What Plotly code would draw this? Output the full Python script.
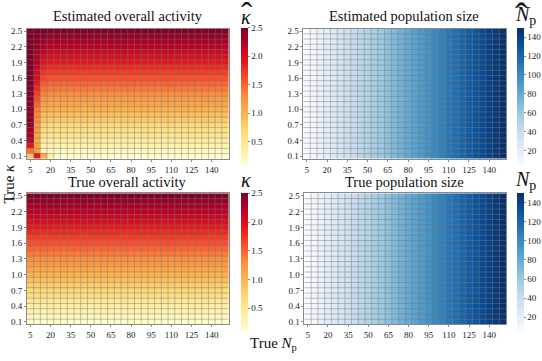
import plotly.graph_objects as go
import plotly.express as px

# ---- data ----
N_P = list(range(5, 155, 5))                      # true population size (x)
KAPPA = [round(0.1 * i, 1) for i in range(1, 26)]  # true overall activity (y)

# estimated kappa, columns that differ from truth (N_p = 5, 10, 15, 20), rows kappa 0.1 -> 2.5
EST_KAPPA_COLS = {
    5:  [0.9, 1.45, 1.95, 2.2, 2.3, 2.35, 2.4, 2.42, 2.44, 2.45, 2.46, 2.47, 2.48,
         2.48, 2.49, 2.49, 2.5, 2.5, 2.5, 2.5, 2.5, 2.5, 2.5, 2.5, 2.5],
    10: [1.9, 1.2, 1.1, 1.1, 1.15, 1.2, 1.25, 1.3, 1.35, 1.4, 1.5, 1.6, 1.7,
         1.8, 1.9, 2.0, 2.05, 2.1, 2.2, 2.25, 2.3, 2.35, 2.4, 2.45, 2.5],
    15: [1.05, 0.3, 0.35, 0.45, 0.55, 0.65, 0.75, 0.85, 0.95, 1.05, 1.15, 1.25, 1.35,
         1.45, 1.55, 1.65, 1.75, 1.85, 1.95, 2.05, 2.15, 2.25, 2.35, 2.45, 2.5],
    20: [0.35, 0.2, 0.3, 0.4, 0.5, 0.6, 0.7, 0.8, 0.9, 1.0, 1.1, 1.2, 1.3,
         1.4, 1.5, 1.6, 1.7, 1.8, 1.9, 2.0, 2.1, 2.2, 2.3, 2.4, 2.5],
}

true_kappa = [[k for _ in N_P] for k in KAPPA]
est_kappa = [[EST_KAPPA_COLS[n][i] if n in EST_KAPPA_COLS else k for n in N_P]
             for i, k in enumerate(KAPPA)]
true_np = [[n for n in N_P] for _ in KAPPA]
est_np = [[n for n in N_P] for _ in KAPPA]

X_TICKS = list(range(5, 145, 15))
Y_TICKS = [0.1, 0.4, 0.7, 1.0, 1.3, 1.6, 1.9, 2.2, 2.5]

W, H = 542, 361
SERIF = "Liberation Serif, Times New Roman, serif"
GRID = "rgba(120,120,120,0.45)"


def px_x(v):
    return v / W


def px_y(v):
    return 1 - v / H


panels = [
    # z, colorscale, zmin, zmax, cb ticks, cb format, x domain px, y domain px, cb x px, cb y px
    (est_kappa, px.colors.sequential.YlOrRd, 0.1, 2.5, [0.5, 1.0, 1.5, 2.0, 2.5], ".1f", (27, 229), (27, 159), 241, (27, 164)),
    (est_np, px.colors.sequential.Blues, 5, 150, list(range(20, 150, 20)), "d", (304, 507), (27, 159), 518, (27, 164)),
    (true_kappa, px.colors.sequential.YlOrRd, 0.1, 2.5, [0.5, 1.0, 1.5, 2.0, 2.5], ".1f", (27, 229), (194, 327), 241, (195, 333)),
    (true_np, px.colors.sequential.Blues, 5, 150, list(range(20, 150, 20)), "d", (305, 507), (194, 327), 518, (195, 333)),
]

# cell boundaries (between neighbouring data values) for the thin grid drawn over cells
x_edges = [(a + b) / 2 for a, b in zip(N_P[:-1], N_P[1:])]
y_edges = [(a + b) / 2 for a, b in zip(KAPPA[:-1], KAPPA[1:])]

fig = go.Figure()
layout = dict(
    width=W, height=H,
    margin=dict(l=0, r=0, t=0, b=0),
    paper_bgcolor="white",
    plot_bgcolor="white",
    font=dict(family=SERIF, color="#222", size=9),
    showlegend=False,
)
shapes = []

for i, (z, cs, zmin, zmax, cbt, cbf, xd, yd, cbx, cby) in enumerate(panels, start=1):
    xa = "x" if i == 1 else f"x{i}"
    ya = "y" if i == 1 else f"y{i}"
    fig.add_trace(go.Heatmap(
        z=z, x=N_P, y=KAPPA, xaxis=xa, yaxis=ya,
        colorscale=cs, zmin=zmin, zmax=zmax,
        colorbar=dict(
            x=px_x(cbx), xanchor="left", xpad=0, ypad=0,
            y=px_y((cby[0] + cby[1]) / 2), yanchor="middle",
            len=cby[1] - cby[0], lenmode="pixels",
            thickness=7, outlinewidth=0,
            tickvals=cbt, tickformat=cbf, ticks="outside", ticklen=2, tickcolor="#888",
            tickfont=dict(family=SERIF, size=9, color="#222"),
        ),
    ))
    ax = dict(
        showgrid=False, zeroline=False, ticks="outside", ticklen=2, tickcolor="#888",
        showline=True, linecolor="#8a8a8a", linewidth=1, mirror=True,
        tickfont=dict(family=SERIF, size=9, color="#222"),
    )
    layout["xaxis" if i == 1 else f"xaxis{i}"] = dict(
        ax, domain=[px_x(xd[0]), px_x(xd[1])], anchor=ya, tickvals=X_TICKS,
        range=[2.5, 152.5])
    layout["yaxis" if i == 1 else f"yaxis{i}"] = dict(
        ax, domain=[px_y(yd[1]), px_y(yd[0])], anchor=xa, tickvals=Y_TICKS,
        tickformat=".1f", range=[0.05, 2.55])
    for xe in x_edges:
        shapes.append(dict(type="line", layer="above", xref=xa, yref=f"{ya} domain",
                           x0=xe, x1=xe, y0=0, y1=1, line=dict(color=GRID, width=1)))
    for ye in y_edges:
        shapes.append(dict(type="line", layer="above", xref=f"{xa} domain", yref=ya,
                           x0=0, x1=1, y0=ye, y1=ye, line=dict(color=GRID, width=1)))

layout["shapes"] = shapes
fig.update_layout(**layout)


def label(text, x, y, size, angle=0):
    fig.add_annotation(text=text, x=px_x(x), y=px_y(y), xref="paper", yref="paper",
                       xanchor="center", yanchor="middle", textangle=angle,
                       showarrow=False, font=dict(family=SERIF, size=size, color="#111"))


label("Estimated overall activity", 128, 14, 14.5)
label("Estimated population size", 405, 14, 14.5)
label("True overall activity", 128, 183, 14.5)
label("True population size", 405, 183, 14.5)

# colour-bar titles; the wide hats sit as their own glyphs above the letters
label("<i>κ</i>", 246, 15, 20)
label("\u02c6", 247, 13, 34)
label("<i>N</i><sub>p</sub>", 526, 14, 20)
label("\u02c6", 522, 14, 38)
label("<i>κ</i>", 246, 181, 20)
label("<i>N</i><sub>p</sub>", 526, 181, 20)

label("True <i>κ</i>", 9, 184, 15, angle=-90)
label("True <i>N</i><sub>p</sub>", 274, 347, 15)

# page body has a default 8px margin; drop it so the figure sits at the window corner
fig.write_html("out.html", config={"displayModeBar": False},
               post_script="document.body.style.margin='0';")
